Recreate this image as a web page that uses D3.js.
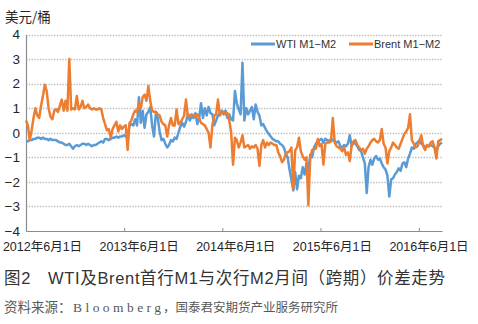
<!DOCTYPE html>
<html>
<head>
<meta charset="utf-8">
<script src="https://cdn.jsdelivr.net/npm/d3@7/dist/d3.min.js"></script>
<style>
  html, body { margin: 0; padding: 0; background: #ffffff; }
  svg { display: block; }
  text { font-family: "Liberation Sans", Arial, "Noto Sans CJK SC", sans-serif; }
</style>
</head>
<body>
<svg id="chart" width="478" height="324"></svg>
<script>
// Weekly M1-M2 spreads, USD/bbl, first observation on 2012-06-01
const firstWeek = "2012-06-01";

const wtiSpread = [
  -0.35,-0.35,-0.3,-0.3,-0.25,-0.25,-0.2,-0.2,-0.25,-0.2,
  -0.25,-0.25,-0.3,-0.25,-0.3,-0.3,-0.3,-0.35,-0.4,-0.4,
  -0.45,-0.5,-0.5,-0.45,-0.55,-0.65,-0.55,-0.5,-0.55,-0.5,
  -0.45,-0.45,-0.5,-0.45,-0.5,-0.55,-0.5,-0.5,-0.45,-0.4,
  -0.35,-0.4,-0.25,-0.25,-0.3,-0.25,-0.2,-0.2,-0.15,-0.2,
  -0.15,-0.15,-0.1,-0.15,-0.1,0.3,0.35,0.3,0.55,0.3,
  1.45,0.4,0.9,0.2,0.75,0.85,1.05,0.3,-0.15,0.8,
  0.6,0.05,-0.3,-0.25,-0.45,-0.6,-0.5,-0.3,-0.35,-0.2,
  -0.25,0.0,0.25,0.4,0.25,0.45,0.75,0.5,0.65,0.6,
  0.8,0.35,0.6,1.2,0.6,1.0,0.7,1.05,0.8,0.75,
  0.3,0.5,0.7,0.8,0.9,0.75,0.9,0.6,0.75,0.55,
  0.5,1.7,1.2,0.95,0.75,2.85,0.5,1.0,0.75,0.9,
  1.05,0.55,1.15,0.85,0.7,0.3,0.35,0.2,0.05,-0.05,
  -0.15,-0.25,-0.3,-0.35,-0.35,-0.45,-0.5,-0.6,-0.85,-1.0,
  -1.5,-1.9,-2.35,-1.6,-2.3,-1.75,-1.85,-1.4,-1.7,-1.25,
  -1.55,-0.9,-1.0,-0.6,-0.45,-0.35,-0.3,-0.25,-0.4,-0.25,
  -0.3,-0.35,-0.25,-0.3,-0.35,-0.4,-0.35,-0.55,-0.6,-0.5,
  -0.55,-0.45,-0.1,-0.55,-0.4,-0.45,-0.55,-0.7,-0.75,-1.0,
  -1.25,-2.45,-1.4,-1.1,-1.3,-1.05,-0.95,-1.1,-1.05,-1.25,
  -1.4,-1.5,-1.75,-2.6,-1.9,-1.85,-1.7,-1.6,-1.45,-1.55,
  -1.25,-1.2,-1.4,-1.05,-0.85,-0.6,-0.65,-0.45,-0.4,-0.3,
  -0.45,-0.5,-0.6,-0.55,-0.55,-0.5,-0.55,-0.6,-0.7,-0.55,
  -0.45,-0.4
];

const brentSpread = [
  0.5,0.3,-0.3,0.1,0.6,1.0,0.7,0.6,1.1,1.5,
  1.95,1.7,1.0,0.65,0.55,0.9,0.95,0.85,1.1,1.35,
  0.9,1.3,0.9,3.0,0.95,1.0,0.95,1.5,0.95,1.05,
  1.3,1.0,1.05,1.15,1.0,0.95,1.0,0.95,0.95,1.0,
  0.95,0.6,0.35,0.1,0.15,-0.2,0.15,0.3,0.45,0.05,
  0.3,0.15,0.25,0.3,-0.7,0.4,0.5,0.75,0.9,0.85,
  1.2,1.0,1.45,1.55,1.3,1.9,1.3,0.9,0.85,0.85,
  0.75,0.7,0.45,0.35,0.3,-0.15,0.3,0.6,0.3,0.3,
  0.95,0.35,0.4,0.55,0.7,1.35,0.65,0.7,0.75,0.7,
  0.65,0.75,0.6,0.4,0.35,0.3,0.15,0.0,-0.6,0.3,
  0.7,0.75,1.35,0.7,0.85,0.85,0.75,0.8,0.5,0.0,
  -1.3,-0.2,-0.3,-0.6,-0.4,-0.1,-0.6,-0.55,-0.5,-0.65,
  -0.55,-0.6,-0.5,-0.65,-1.35,-0.5,-0.3,-0.6,-0.4,-0.5,
  -0.4,-0.45,-0.5,-0.5,-0.8,-0.95,-1.2,-1.1,-0.85,-0.8,
  -0.75,-0.6,-2.3,-0.7,-0.6,-0.2,-0.75,-0.95,-1.1,-1.0,
  -2.95,-1.0,-0.7,-0.65,-0.65,-0.25,-0.55,-0.45,-1.3,-0.45,
  -0.4,-0.4,-0.35,0.6,-0.4,-0.55,-0.6,-0.65,-0.75,-0.6,
  -0.9,-0.8,-1.15,-0.5,-0.35,-0.3,-0.5,-0.6,-0.7,-0.65,
  -0.85,-0.65,-0.55,-0.4,-0.3,-0.25,-0.35,-0.4,-0.3,0.15,
  -0.45,-0.6,-1.25,-0.75,-0.6,-0.4,-0.5,-0.6,-0.65,-0.45,
  -0.25,-0.05,0.05,0.2,0.75,-0.3,-0.45,-0.6,-0.55,-0.35,
  -0.1,-0.55,-0.7,-0.5,-0.55,-0.4,-0.35,-0.6,-1.05,-0.35,
  -0.3,-0.25
];

const yTicks = [4, 3, 2, 1, 0, -1, -2, -3, -4];
const xTickDates = ["2012-06-01", "2013-06-01", "2014-06-01", "2015-06-01", "2016-06-01"];
const xTickLabels = ["2012年6月1日", "2013年6月1日", "2014年6月1日", "2015年6月1日", "2016年6月1日"];
const seriesNames = ["WTI M1−M2", "Brent M1−M2"];
const unitLabel = "美元/桶";
const titleText = "图2　WTI及Brent首行M1与次行M2月间（跨期）价差走势";
const sourceParts = ["资料来源：", "Bloomberg", "，国泰君安期货产业服务研究所"];

const colors = ["#5b9bd5", "#ed7d31"];

const parse = d3.timeParse("%Y-%m-%d");
const start = parse(firstWeek);
const weeks = wtiSpread.map((_, i) => d3.timeWeek.offset(start, i));

const svg = d3.select("#chart");

const plot = { left: 26, right: 442, top: 34.5, bottom: 231 };

const x = d3.scaleTime()
  .domain([start, parse("2016-08-26")])
  .range([plot.left, plot.right]);

const y = d3.scaleLinear()
  .domain([-4, 4])
  .range([plot.bottom, plot.top]);

// dotted horizontal gridlines
svg.append("g")
  .selectAll("line")
  .data(yTicks.filter(d => d > -4))
  .join("line")
  .attr("x1", plot.left)
  .attr("x2", plot.right)
  .attr("y1", d => Math.round(y(d)) + 0.5)
  .attr("y2", d => Math.round(y(d)) + 0.5)
  .attr("stroke", "#b8b8b8")
  .attr("stroke-width", 1.3)
  .attr("stroke-dasharray", "1.3,1.5");

// y axis
const yAxis = svg.append("g")
  .attr("transform", `translate(${plot.left},0)`)
  .call(d3.axisLeft(y).tickValues(yTicks).tickSize(0).tickPadding(6)
    .tickFormat(d => d < 0 ? "−" + Math.abs(d) : String(d)));
yAxis.select(".domain").attr("stroke", "#8c8c8c").attr("stroke-width", 1.2);
yAxis.selectAll("text")
  .attr("font-size", 13.5)
  .attr("fill", "#262626")
  .style("font-family", "'Liberation Sans', Arial, sans-serif");

// x axis with year ticks
const xAxis = svg.append("g")
  .attr("transform", `translate(0,${plot.bottom})`)
  .call(d3.axisBottom(x).tickValues(xTickDates.map(parse)).tickSizeInner(-3).tickSizeOuter(0)
    .tickFormat(() => ""));
xAxis.select(".domain").attr("stroke", "#8c8c8c").attr("stroke-width", 1.2);
xAxis.selectAll(".tick line").attr("stroke", "#8c8c8c");

// x tick labels, evenly spread beneath the axis
const labelPos = d3.scalePoint().domain(xTickLabels).range([42.5, 429]);
svg.append("g")
  .selectAll("text")
  .data(xTickLabels)
  .join("text")
  .attr("x", d => labelPos(d))
  .attr("y", 251)
  .attr("text-anchor", "middle")
  .attr("font-size", 12.5)
  .attr("fill", "#262626")
  .text(d => d);

// unit label
svg.append("text")
  .attr("x", 5)
  .attr("y", 21.5)
  .attr("font-size", 13.5)
  .attr("fill", "#262626")
  .style("font-family", "'Noto Sans CJK SC', sans-serif")
  .text(unitLabel);

// series lines
const line = d3.line()
  .x((d, i) => x(weeks[i]))
  .y(d => y(d));

[wtiSpread, brentSpread].forEach((values, k) => {
  svg.append("path")
    .datum(values)
    .attr("fill", "none")
    .attr("stroke", colors[k])
    .attr("stroke-width", 2.5)
    .attr("stroke-linejoin", "round")
    .attr("d", line);
});

// legend
const legendX = [251, 349];
const legend = svg.append("g");
seriesNames.forEach((name, k) => {
  legend.append("line")
    .attr("x1", legendX[k]).attr("x2", legendX[k] + 24)
    .attr("y1", 44).attr("y2", 44)
    .attr("stroke", colors[k]).attr("stroke-width", 3);
  legend.append("text")
    .attr("x", legendX[k] + 25)
    .attr("y", 48)
    .attr("font-size", 11)
    .attr("fill", "#333333")
    .text(name);
});

// title
svg.append("text")
  .attr("x", 4)
  .attr("y", 284)
  .attr("font-size", 16.5)
  .attr("fill", "#333333")
  .attr("textLength", 441)
  .attr("lengthAdjust", "spacing")
  .style("font-family", "'Liberation Sans', 'Noto Sans CJK SC', sans-serif")
  .text(titleText);

// source note
const srcX = [4, 73, 163];
const srcSize = [13.5, 13.5, 12.5];
sourceParts.forEach((s, k) => {
  const t = svg.append("text")
    .attr("x", srcX[k])
    .attr("y", 312)
    .attr("font-size", srcSize[k])
    .attr("fill", "#595959")
    .style("font-family", k === 1 ? "'Liberation Serif', serif" : "'Noto Sans CJK SC', sans-serif")
    .text(s);
  if (k === 1) t.attr("textLength", 88).attr("lengthAdjust", "spacing");
});
</script>
</body>
</html>
